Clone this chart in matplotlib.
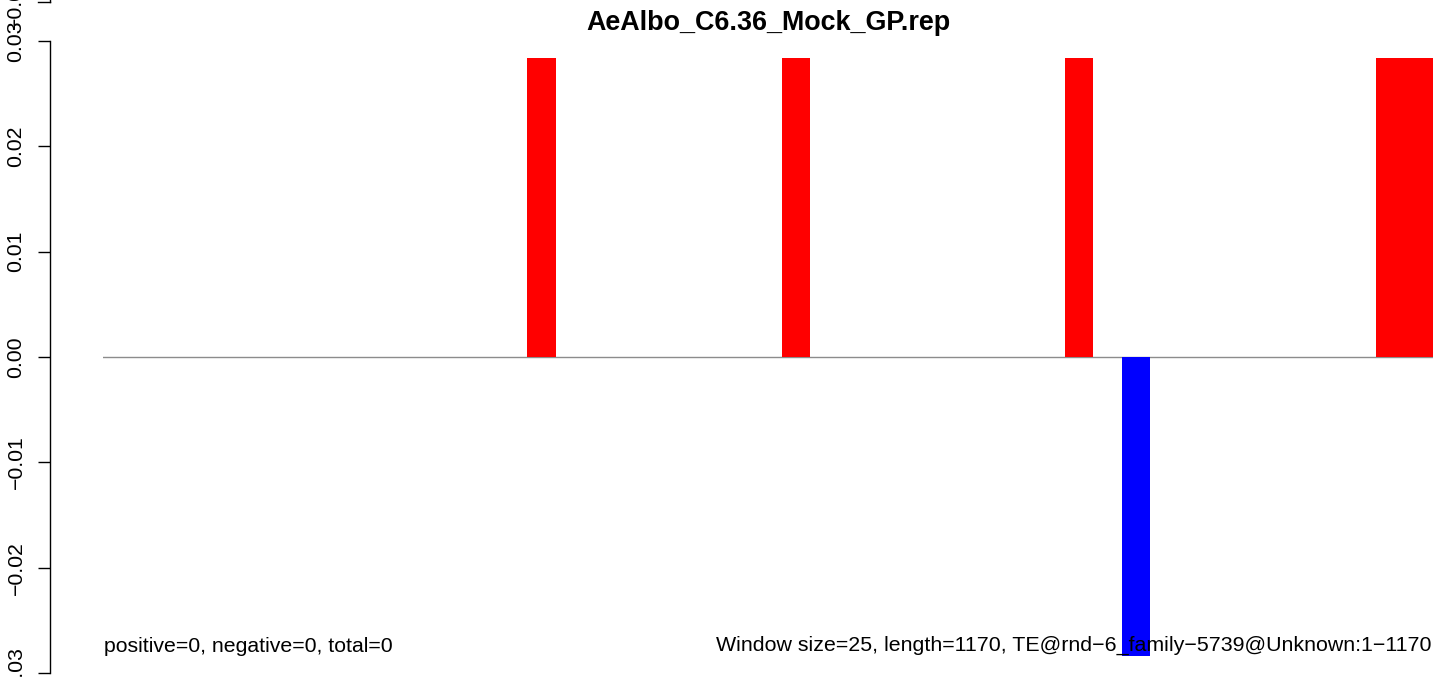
import matplotlib
matplotlib.use("Agg")
import matplotlib.pyplot as plt
from matplotlib.lines import Line2D

# ---- data ----
title = "AeAlbo_C6.36_Mock_GP.rep"
n_bins = 47
pos_bins = [15, 24, 34, 45, 46]
neg_bins = [36]
bar_height = 0.0284
yticks = [-0.03, -0.02, -0.01, 0.00, 0.01, 0.02, 0.03]
ytick_labels = ["\u22120.03", "\u22120.02", "\u22120.01", "0.00", "0.01", "0.02", "0.03"]
left_note = "positive=0, negative=0, total=0"
right_note = "Window size=25, length=1170, TE@rnd\u22126_family\u22125739@Unknown:1\u22121170"

values = [0.0] * n_bins
for b in pos_bins:
    values[b] = bar_height
for b in neg_bins:
    values[b] = -bar_height
colors = ["red" if v > 0 else "blue" for v in values]

W, H, DPI = 1441, 677, 100
plt.rcParams['font.family'] = ['Liberation Sans', 'DejaVu Sans']
fig = plt.figure(figsize=(W / DPI, H / DPI), dpi=DPI)

# pixel geometry
x0, x1 = 103, 1433
y_zero, px_per_unit = 357, 10533.0
ax = fig.add_axes([x0 / W, 0, (x1 - x0) / W, 1])
ytop = y_zero / px_per_unit
ybot = -(H - y_zero) / px_per_unit
ax.set_ylim(ybot, ytop)
ax.set_xlim(0, n_bins)

ax.bar(range(n_bins), values, width=1, align='edge', color=colors, linewidth=0, zorder=2)
ax.axhline(0, color='#8c8c8c', lw=1.0, zorder=1)

for s in ['top', 'right', 'bottom']:
    ax.spines[s].set_visible(False)
ax.spines['left'].set_position(('outward', (x0 - 50) * 72 / DPI))
ax.spines['left'].set_bounds(-0.03, 0.03)
ax.spines['left'].set_linewidth(1.0)
ax.set_xticks([])
ax.set_yticks(yticks)
ax.set_yticklabels(ytick_labels, rotation=90, va='center', fontsize=15.3)
ax.tick_params(axis='y', length=12 * 72 / DPI, width=1.0, pad=9)
ax.patch.set_visible(False)

# title
fig.text((x0 + x1) / 2 / W, 1 - 30 / H, title, ha='center', va='baseline',
         fontsize=19.4, fontweight='bold')

# bottom notes
fig.text(104 / W, 1 - 652 / H, left_note, fontsize=15.3, ha='left', va='baseline', zorder=5)
fig.text(1432 / W, 1 - 651 / H, right_note, fontsize=15.4, ha='right', va='baseline', zorder=5)

# remnant of the panel above (cut at the top edge)
fig.add_artist(Line2D([50 / W, 50 / W], [1, 1 - 2 / H], transform=fig.transFigure, color='black', lw=1.0))
fig.add_artist(Line2D([38 / W, 50 / W], [1 - 2 / H, 1 - 2 / H], transform=fig.transFigure, color='black', lw=1.0))
fig.text(15 / W, 1 - 2 / H, "\u22120.03", rotation=90, ha='center', va='center', fontsize=15.3)

fig.savefig("out.png", dpi=DPI)
